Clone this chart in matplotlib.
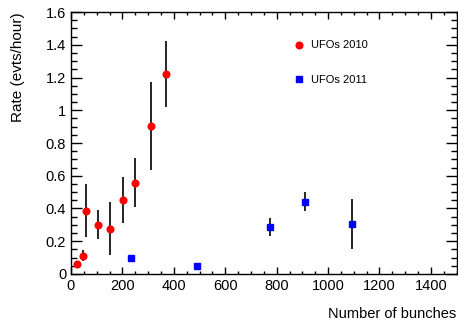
import numpy as np
import matplotlib
matplotlib.use('Agg')
import matplotlib.pyplot as plt
from matplotlib.ticker import MultipleLocator, FormatStrFormatter

plt.rcParams['font.family'] = ['Liberation Sans', 'DejaVu Sans']

# UFOs 2010
x2010 = [22, 48, 57, 104, 151, 201, 248, 313, 368]
y2010 = [0.061, 0.112, 0.387, 0.301, 0.277, 0.450, 0.556, 0.905, 1.222]
e2010 = [0.0, 0.035, 0.16, 0.09, 0.16, 0.14, 0.15, 0.27, 0.20]

# UFOs 2011
x2011 = [233, 489, 775, 911, 1092]
y2011 = [0.100, 0.049, 0.287, 0.442, 0.305]
e2011 = [0.0, 0.0, 0.054, 0.06, 0.152]

fig = plt.figure(figsize=(4.58, 3.28), dpi=100)
ax = fig.add_axes([0.155, 0.165, 0.842, 0.798])

ax.errorbar(x2010, y2010, yerr=e2010, fmt='o', color='red', ecolor='black',
            elinewidth=1.2, capsize=0, markersize=4.8, label='UFOs 2010', zorder=3)
ax.errorbar(x2011, y2011, yerr=e2011, fmt='s', color='blue', ecolor='black',
            elinewidth=1.2, capsize=0, markersize=4.6, label='UFOs 2011', zorder=3)

ax.set_xlim(0, 1500)
ax.set_ylim(0, 1.6)
ax.xaxis.set_major_locator(MultipleLocator(200))
ax.xaxis.set_minor_locator(MultipleLocator(50))
ax.yaxis.set_major_locator(MultipleLocator(0.2))
ax.yaxis.set_minor_locator(MultipleLocator(0.05))
ax.yaxis.set_major_formatter(FormatStrFormatter('%g'))

ax.tick_params(axis='both', which='both', direction='in', top=True, right=True,
               labelsize=10.5, width=1)
ax.tick_params(axis='x', which='major', length=5, pad=4)
ax.tick_params(axis='x', which='minor', length=2.5)
ax.tick_params(axis='y', which='major', length=8)
ax.tick_params(axis='y', which='minor', length=4)
for s in ax.spines.values():
    s.set_linewidth(1)

ax.set_xlabel('Number of bunches', fontsize=10.5, loc='right', labelpad=10)
ax.set_ylabel('Rate (evts/hour)', fontsize=11, loc='top', labelpad=15)

handles, labels = ax.get_legend_handles_labels()
handles = [h[0] for h in handles]
ax.legend(handles, labels, loc='upper left', bbox_to_anchor=(0.555, 0.93),
          frameon=False, fontsize=8, labelspacing=2.2, handlelength=0.8,
          handletextpad=0.6, numpoints=1)

fig.savefig('out.png', dpi=100)
